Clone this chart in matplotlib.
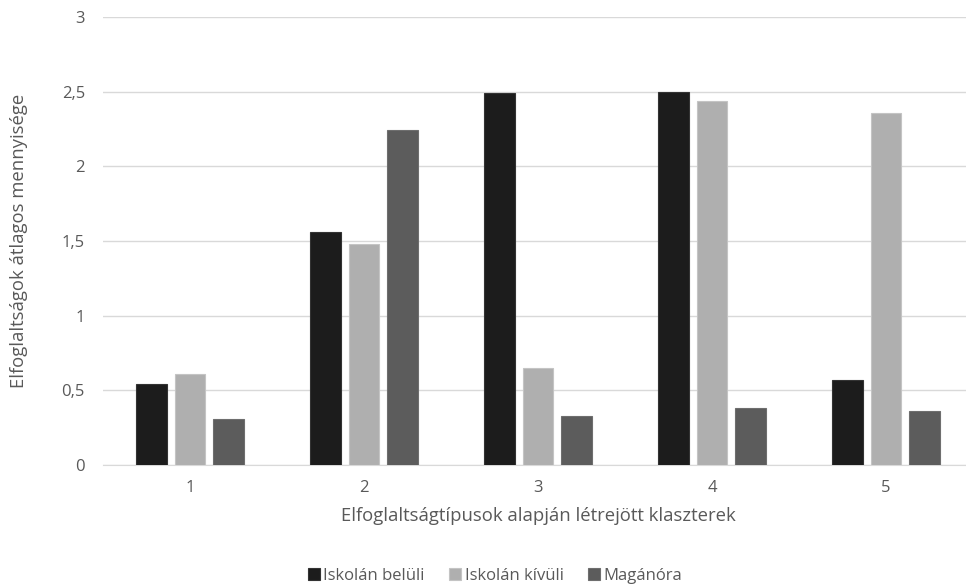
import numpy as np
import matplotlib
matplotlib.use('Agg')
import matplotlib.pyplot as plt

clusters = ['1', '2', '3', '4', '5']
iskolan_beluli = [0.54, 1.56, 2.49, 2.50, 0.57]
iskolan_kivuli = [0.61, 1.48, 0.65, 2.44, 2.36]
maganora = [0.31, 2.24, 0.33, 0.38, 0.36]
series_names = ['Iskolán belüli', 'Iskolán kívüli', 'Magánóra']
yticks = [0, 0.5, 1, 1.5, 2, 2.5, 3]

colors = ['#1c1c1c', '#afafaf', '#5c5c5c']
edges = ['#333333', '#c4c4c4', '#6e6e6e']
txt = '#595959'

plt.rcParams['font.family'] = ['Open Sans', 'DejaVu Sans']

fig = plt.figure(figsize=(9.66, 5.85), dpi=100)
ax = fig.add_axes([103 / 966, 1 - 465 / 585, 870 / 966, (465 - 17) / 585])

x = np.arange(len(clusters))
step = 0.221
width = 0.178
for i, (vals, name) in enumerate(zip([iskolan_beluli, iskolan_kivuli, maganora], series_names)):
    ax.bar(x + (i - 1) * step, vals, width, color=colors[i], edgecolor=edges[i],
           linewidth=0.8, label=name, zorder=3)

ax.set_xlim(-0.5, len(clusters) - 0.5)
ax.set_ylim(0, 3)
ax.set_yticks(yticks)
ax.set_yticklabels([('%g' % v).replace('.', ',') for v in yticks])
ax.set_xticks(x)
ax.set_xticklabels(clusters)
ax.yaxis.grid(True, color='#d9d9d9', linewidth=1, zorder=0)
ax.tick_params(length=0, labelsize=12, labelcolor=txt)
ax.tick_params(axis='y', pad=13)
ax.tick_params(axis='x', pad=11)
for s in ['top', 'right', 'left']:
    ax.spines[s].set_visible(False)
ax.spines['bottom'].set_color('#d9d9d9')

ax.set_xlabel('Elfoglaltságtípusok alapján létrejött klaszterek', fontsize=13.3, color=txt, labelpad=8)
ax.set_ylabel('Elfoglaltságok átlagos mennyisége', fontsize=13.3, color=txt, labelpad=24)

fig.legend(loc='center', bbox_to_anchor=(495 / 966, 1 - 576 / 585), ncol=3, frameon=False,
           fontsize=12, labelcolor=txt, handlelength=0.72, handleheight=0.72,
           handletextpad=0.2, columnspacing=1.5, borderpad=0)

fig.savefig('out.png', dpi=100)
